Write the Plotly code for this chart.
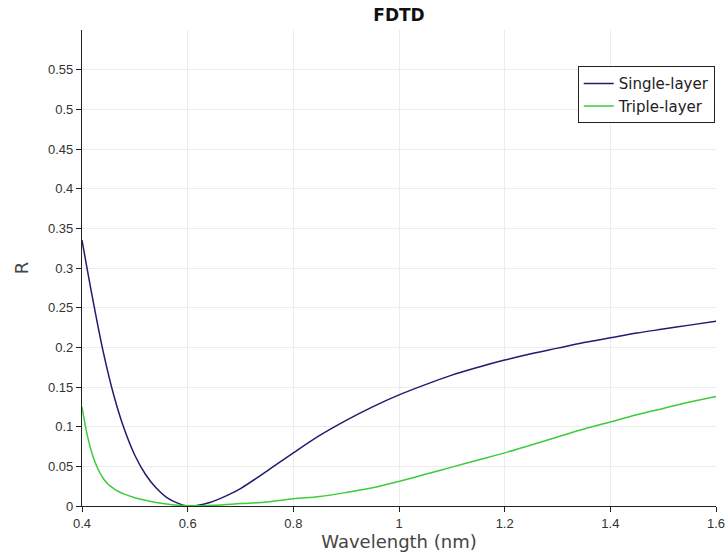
import plotly.graph_objects as go

# Reflectance spectra from the FDTD runs
wl_single = [0.40, 0.42, 0.44, 0.46, 0.48, 0.50, 0.52, 0.54, 0.56, 0.58, 0.60,
             0.62, 0.64, 0.66, 0.68, 0.70, 0.75, 0.80, 0.85, 0.90, 0.95, 1.00,
             1.05, 1.10, 1.15, 1.20, 1.25, 1.30, 1.35, 1.40, 1.45, 1.50, 1.55, 1.60]
r_single = [0.335, 0.262, 0.195, 0.140, 0.097, 0.064, 0.040, 0.023, 0.011, 0.004, 0.000,
            0.001, 0.004, 0.009, 0.015, 0.022, 0.044, 0.067, 0.089, 0.108, 0.125, 0.140,
            0.153, 0.165, 0.175, 0.184, 0.192, 0.199, 0.206, 0.212, 0.218, 0.223, 0.228, 0.233]

wl_triple = [0.40, 0.41, 0.42, 0.43, 0.44, 0.45, 0.46, 0.47, 0.48, 0.50, 0.52, 0.54, 0.56, 0.58, 0.60,
             0.65, 0.70, 0.75, 0.80, 0.85, 0.90, 0.95, 1.00, 1.05, 1.10, 1.15, 1.20,
             1.25, 1.30, 1.35, 1.40, 1.45, 1.50, 1.55, 1.60]
r_triple = [0.125, 0.089, 0.064, 0.047, 0.035, 0.027, 0.022, 0.018, 0.015, 0.0105, 0.0072, 0.0045, 0.0025, 0.001, 0.0003,
            0.001, 0.003, 0.005, 0.009, 0.012, 0.017, 0.023, 0.031, 0.040, 0.049, 0.058, 0.067,
            0.077, 0.087, 0.097, 0.106, 0.115, 0.123, 0.131, 0.138]

y_ticks = [0, 0.05, 0.1, 0.15, 0.2, 0.25, 0.3, 0.35, 0.4, 0.45, 0.5, 0.55]
y_labels = ["0", "0.05", "0.1", "0.15", "0.2", "0.25", "0.3", "0.35", "0.4", "0.45", "0.5", "0.55"]
x_ticks = [0.4, 0.6, 0.8, 1.0, 1.2, 1.4, 1.6]
x_labels = ["0.4", "0.6", "0.8", "1", "1.2", "1.4", "1.6"]

fig = go.Figure()
fig.add_trace(go.Scatter(x=wl_single, y=r_single, mode="lines", name="Single-layer",
                         line=dict(color="#1e1e6e", width=1.5, shape="spline", smoothing=1)))
fig.add_trace(go.Scatter(x=wl_triple, y=r_triple, mode="lines", name="Triple-layer",
                         line=dict(color="#3ccc3c", width=1.5, shape="spline", smoothing=1)))

axis_common = dict(
    showline=True, linecolor="#222222", linewidth=1.3,
    ticks="outside", ticklen=5, tickcolor="#222222", tickwidth=1,
    showgrid=True, gridcolor="#ececec", gridwidth=1,
    zeroline=False, mirror=False, automargin=False,
    tickfont=dict(family="Liberation Sans", size=13, color="#333333"),
)

fig.update_layout(
    width=728, height=558,
    margin=dict(l=82, r=12, t=30, b=52),
    paper_bgcolor="white", plot_bgcolor="white",
    title=dict(text="<b>FDTD</b>", x=399 / 728, xanchor="center", y=0.973, yanchor="middle",
               font=dict(family="DejaVu Sans", size=17, color="#111111")),
    xaxis=dict(range=[0.4, 1.6], tickvals=x_ticks, ticktext=x_labels,
               title=dict(text="Wavelength (nm)", standoff=3,
                          font=dict(family="DejaVu Sans", size=18, color="#444444")),
               **axis_common),
    yaxis=dict(range=[0, 0.6], tickvals=y_ticks, ticktext=y_labels,
               title=dict(text="R", standoff=14,
                          font=dict(family="DejaVu Sans", size=18, color="#444444")),
               **axis_common),
    legend=dict(x=0.998, y=0.924, xanchor="right", yanchor="top",
                bgcolor="white", bordercolor="#222222", borderwidth=1,
                font=dict(family="DejaVu Sans", size=15, color="#222222"),
                itemwidth=30, tracegroupgap=0),
    showlegend=True,
)

fig.write_html("out.html")
